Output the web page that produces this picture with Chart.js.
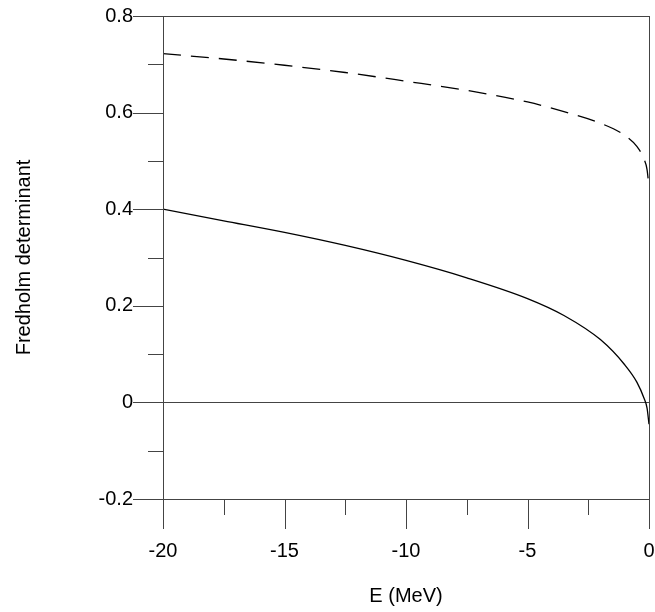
<!DOCTYPE html>
<html><head><meta charset="utf-8">
<script src="https://cdn.jsdelivr.net/npm/chart.js@4"></script>
<style>html,body{margin:0;padding:0;background:#fff;overflow:hidden}#w{width:655px;height:612px}</style>
</head><body><div id="w"><canvas id="c"></canvas></div>
<script>
const energies = [-20,-17.5,-15,-12.5,-10,-7.5,-5,-3.5,-2,-1,-0.5,-0.2,-0.08,0];
const solidSeries = [0.400,0.376,0.352,0.325,0.294,0.258,0.215,0.180,0.130,0.078,0.042,0.008,-0.012,-0.045];
const dashedSeries = [0.722,0.711,0.698,0.683,0.665,0.646,0.622,0.602,0.578,0.553,0.530,0.503,0.482,0.445];
const xTicks = [-20,-15,-10,-5,0];
const yTicks = [-0.2,0,0.2,0.4,0.6,0.8];
const font = {family:'"Liberation Sans", Arial, sans-serif', size:20};
const isMajorY = v => yTicks.some(t => Math.abs(t - v) < 1e-6);
const isMajorX = v => xTicks.some(t => Math.abs(t - v) < 1e-6);
const tickPlugin = {
  id:'tk',
  afterDraw(chart){
    const {ctx, chartArea:a, scales:{x,y}} = chart;
    ctx.save(); ctx.strokeStyle='#444'; ctx.lineWidth=1;
    ctx.strokeRect(a.left+0.5, a.top+0.5, a.right-a.left, a.bottom-a.top);
    y.ticks.forEach(t => { const p = Math.round(y.getPixelForValue(t.value))+0.5;
      const L = isMajorY(t.value) ? 30 : 15; ctx.beginPath(); ctx.moveTo(a.left-L,p); ctx.lineTo(a.left,p); ctx.stroke(); });
    x.ticks.forEach(t => { const p = Math.round(x.getPixelForValue(t.value))+0.5;
      const L = isMajorX(t.value) ? 30 : 16; ctx.beginPath(); ctx.moveTo(p,a.bottom); ctx.lineTo(p,a.bottom+L); ctx.stroke(); });
    ctx.restore();
  }
};
new Chart(document.getElementById('c'), {
  type:'line',
  data:{labels:energies, datasets:[
    {data:energies.map((e,i)=>({x:e,y:solidSeries[i]})), borderColor:'#000', borderWidth:1.3, pointRadius:0, cubicInterpolationMode:'monotone'},
    {data:energies.map((e,i)=>({x:e,y:dashedSeries[i]})), borderColor:'#000', borderWidth:1.3, pointRadius:0, borderDash:[18,10], cubicInterpolationMode:'monotone'}
  ]},
  options:{
    animation:false, responsive:true, maintainAspectRatio:false,
    layout:{padding:{left:12,top:16,right:6,bottom:4}},
    plugins:{legend:{display:false}, tooltip:{enabled:false}},
    scales:{
      x:{type:'linear', min:-20, max:0,
        afterFit:s=>{s.height=109; s.paddingLeft=0; s.paddingRight=0;},
        ticks:{stepSize:2.5, padding:40, color:'#000', font, maxRotation:0, autoSkip:false,
          callback:v=>isMajorX(v)?String(v):''},
        grid:{drawTicks:false, drawOnChartArea:false}, border:{display:false},
        title:{display:true, text:'E (MeV)', color:'#000', font, padding:{top:14,bottom:0}}},
      y:{min:-0.2, max:0.8,
        afterFit:s=>{s.width=151; s.paddingTop=0; s.paddingBottom=0;},
        ticks:{stepSize:0.1, padding:30, color:'#000', font, autoSkip:false,
          callback:v=>isMajorY(v)?(Math.abs(v)<1e-9?'0':String(Math.round(v*10)/10)):''},
        grid:{drawTicks:false, color:c=>Math.abs(c.tick.value)<1e-9?'#444':'rgba(0,0,0,0)'}, border:{display:false},
        title:{display:true, text:'Fredholm determinant', color:'#000', font, padding:{top:0,bottom:0}}}
    }
  },
  plugins:[tickPlugin]
});
</script></body></html>
